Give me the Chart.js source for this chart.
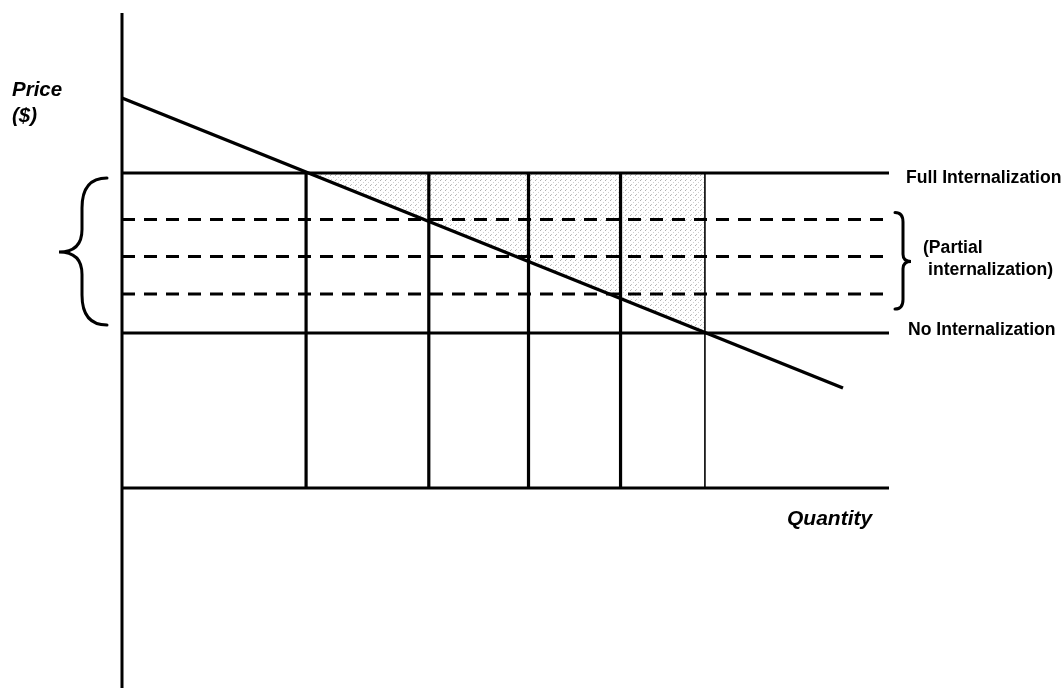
<!DOCTYPE html>
<html>
<head>
<meta charset="utf-8">
<script src="https://cdn.jsdelivr.net/npm/chart.js@4/dist/chart.umd.min.js"></script>
<style>
  html, body { margin: 0; padding: 0; background: #fff; }
  #wrap { position: relative; width: 1063px; height: 688px; }
  canvas { display: block; }
</style>
</head>
<body>
<div id="wrap"><canvas id="c" width="1063" height="688"></canvas></div>
<script>
// ---- Data (quantity / price units) ----
const demandQ = [0, 94];
const demandP = [78, 20];
const fullP = 63;            // Full internalization price
const noneP = 31;            // No internalization price
const partialP = [53.7, 46.3, 38.8];   // Partial internalization prices
const verticalQ = [24, 40, 53, 65, 76];
const shadeQ = [24, 76];
const shadeP = [63, 31];
const axisQRange = [0, 100];
const axisPRange = [-40, 95];
const labels = {
  price: ['Price', '($)'],
  quantity: 'Quantity',
  full: 'Full Internalization',
  partial: ['(Partial', 'internalization)'],
  none: 'No Internalization'
};

// light stipple pattern for the shaded area
function makePattern() {
  const p = document.createElement('canvas');
  p.width = 5; p.height = 5;
  const g = p.getContext('2d');
  g.fillStyle = '#b0b0b0';
  g.fillRect(0, 0, 1, 1);
  g.fillStyle = '#d0d0d0';
  g.fillRect(3, 2, 1, 1);
  g.fillStyle = '#c4c4c4';
  g.fillRect(1, 4, 1, 1);
  return g.createPattern(p, 'repeat');
}

const hline = (p, dash, w) => ({
  data: [{x: axisQRange[0], y: p}, {x: axisQRange[1], y: p}],
  borderColor: '#000', borderWidth: w || 3, borderDash: dash || [],
  pointRadius: 0, fill: false, clip: false, tension: 0
});
const vline = (q, p0, p1, w) => ({
  data: [{x: q, y: p0}, {x: q, y: p1}],
  borderColor: '#000', borderWidth: w || 3,
  pointRadius: 0, fill: false, clip: false, tension: 0
});

const datasets = [];
// shaded triangle (under demand line up to full internalization)
datasets.push({
  data: shadeQ.map((q, i) => ({x: q, y: shadeP[i]})),
  borderWidth: 0, borderColor: 'rgba(0,0,0,0)', pointRadius: 0,
  backgroundColor: makePattern(), fill: {value: fullP}, clip: false, order: 10
});
// axes
datasets.push(vline(axisQRange[0], axisPRange[0], axisPRange[1], 3));
datasets.push(hline(0, [], 3.2));
// price lines
datasets.push(hline(fullP, [], 3.2));
datasets.push(hline(noneP, [], 3.2));
partialP.forEach(p => datasets.push(hline(p, [13, 9], 3.2)));
// vertical quantity lines
verticalQ.forEach((q, i) => datasets.push(vline(q, 0, fullP, i === verticalQ.length - 1 ? 1.6 : 3.2)));
// demand curve
datasets.push({
  data: demandQ.map((q, i) => ({x: q, y: demandP[i]})),
  borderColor: '#000', borderWidth: 3.5, pointRadius: 0, fill: false, clip: false
});

function brace(ctx, xEnd, xSpine, xTip, yTop, yBot, yMid) {
  const r = Math.abs(xEnd - xSpine);
  ctx.beginPath();
  ctx.moveTo(xEnd, yTop);
  ctx.quadraticCurveTo(xSpine, yTop, xSpine, yTop + r * 1.2);
  ctx.lineTo(xSpine, yMid - r * 0.9);
  ctx.quadraticCurveTo(xSpine, yMid, xTip, yMid);
  ctx.quadraticCurveTo(xSpine, yMid, xSpine, yMid + r * 0.9);
  ctx.lineTo(xSpine, yBot - r * 1.2);
  ctx.quadraticCurveTo(xSpine, yBot, xEnd, yBot);
  ctx.stroke();
}

const decor = {
  id: 'decor',
  afterDatasetsDraw(chart) {
    const ctx = chart.ctx;
    const ys = chart.scales.y;
    ctx.save();
    ctx.strokeStyle = '#000';
    ctx.lineWidth = 3;
    ctx.lineCap = 'round';
    // left brace spanning full -> none
    brace(ctx, 107, 82, 59, ys.getPixelForValue(fullP) + 5, ys.getPixelForValue(noneP) - 8,
          (ys.getPixelForValue(fullP) + ys.getPixelForValue(noneP)) / 2 - 1);
    // right brace spanning partial lines
    brace(ctx, 895, 903, 911, ys.getPixelForValue(partialP[0]) - 7, ys.getPixelForValue(partialP[2]) + 15,
          ys.getPixelForValue(partialP[1]) + 5);
    ctx.fillStyle = '#000';
    ctx.textBaseline = 'alphabetic';
    ctx.font = 'italic bold 20.5px "Liberation Sans", Arial, sans-serif';
    ctx.fillText(labels.price[0], 12, 96);
    ctx.fillText(labels.price[1], 12, 122);
    ctx.font = 'italic bold 21px "Liberation Sans", Arial, sans-serif';
    ctx.fillText(labels.quantity, 787, 525);
    ctx.font = 'bold 17.6px "Liberation Sans", Arial, sans-serif';
    ctx.fillText(labels.full, 906, ys.getPixelForValue(fullP) + 10);
    ctx.fillText(labels.partial[0], 923, 253);
    ctx.fillText(labels.partial[1], 928, 275);
    ctx.fillText(labels.none, 908, ys.getPixelForValue(noneP) + 2);
    ctx.restore();
  }
};

new Chart(document.getElementById('c'), {
  type: 'line',
  data: { datasets },
  options: {
    responsive: false,
    animation: false,
    events: [],
    layout: { padding: { left: 122, right: 174, top: 13, bottom: 0 } },
    plugins: { legend: { display: false }, tooltip: { enabled: false } },
    scales: {
      x: { type: 'linear', min: axisQRange[0], max: axisQRange[1], display: false },
      y: { type: 'linear', min: axisPRange[0], max: axisPRange[1], display: false }
    }
  },
  plugins: [decor]
});
</script>
</body>
</html>
